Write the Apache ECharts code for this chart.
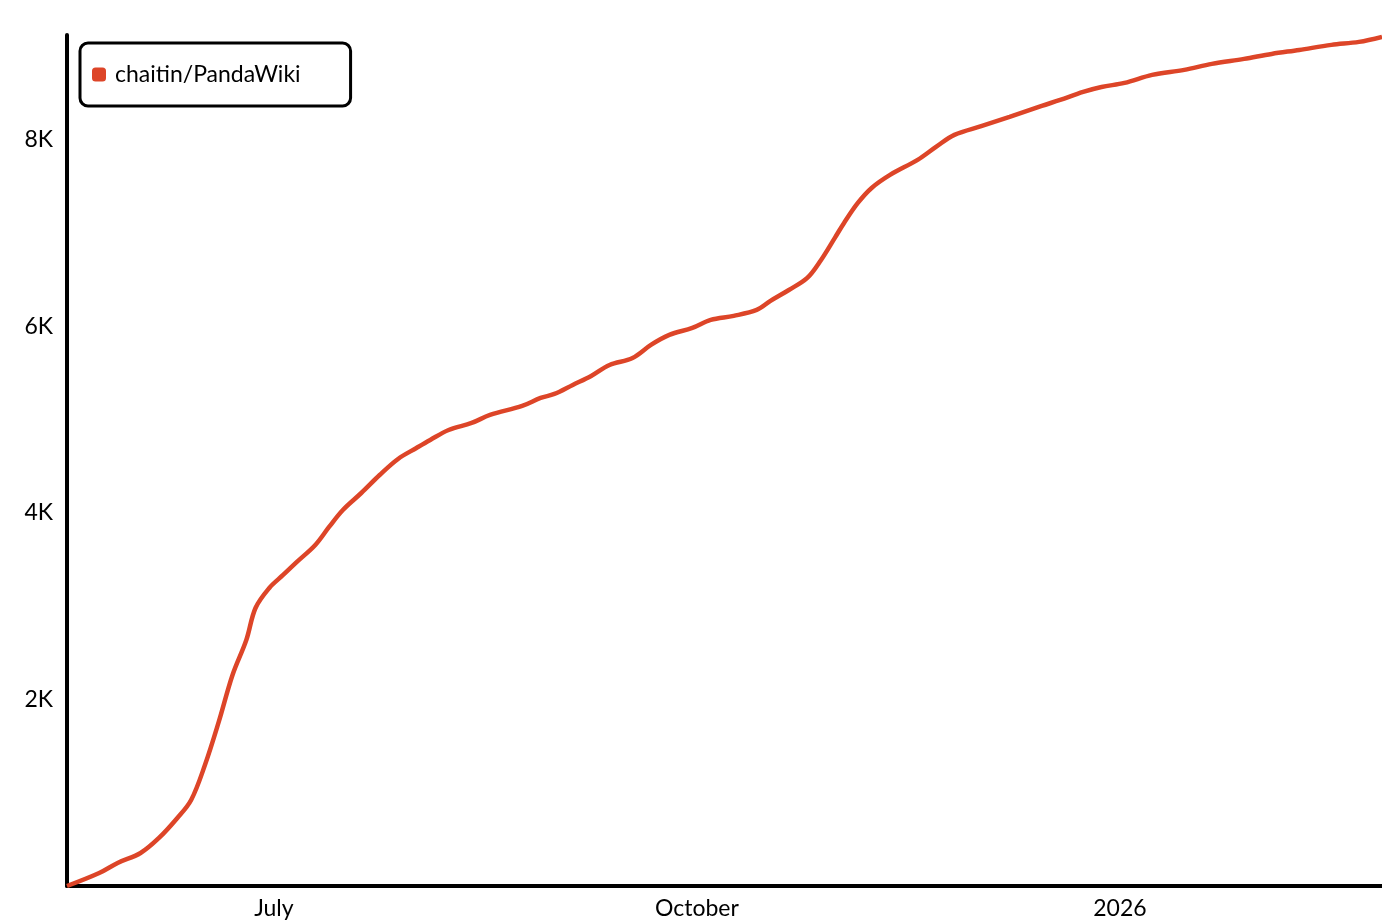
<!DOCTYPE html>
<html>
<head>
<meta charset="utf-8">
<script src="https://cdn.jsdelivr.net/npm/echarts@6/dist/echarts.min.js"></script>
<style>
html,body{margin:0;padding:0;background:#fff;}
#c{width:1382px;height:921px;}
</style>
</head>
<body>
<div id="c"></div>
<script>
var seriesName = 'chaitin/PandaWiki';
var dates = ['2025-05-17','2025-05-24','2025-05-28','2025-06-02','2025-06-06','2025-06-10','2025-06-13','2025-06-16','2025-06-19','2025-06-22','2025-06-25','2025-06-27','2025-06-30','2025-07-03','2025-07-06','2025-07-10','2025-07-13','2025-07-16','2025-07-20','2025-07-24','2025-07-28','2025-08-01','2025-08-04','2025-08-08','2025-08-13','2025-08-17','2025-08-24','2025-08-28','2025-08-31','2025-09-04','2025-09-08','2025-09-12','2025-09-17','2025-09-21','2025-09-25','2025-09-30','2025-10-04','2025-10-09','2025-10-14','2025-10-17','2025-10-21','2025-10-25','2025-10-28','2025-10-31','2025-11-02','2025-11-05','2025-11-08','2025-11-12','2025-11-18','2025-11-22','2025-11-26','2025-12-02','2025-12-08','2025-12-15','2025-12-19','2025-12-24','2025-12-28','2026-01-02','2026-01-08','2026-01-15','2026-01-21','2026-01-28','2026-02-03','2026-02-09','2026-02-16','2026-02-22','2026-02-27'];
var stars = [0,139,247,354,515,729,922,1297,1759,2263,2638,2981,3196,3335,3475,3657,3850,4032,4214,4407,4579,4697,4783,4890,4965,5051,5148,5233,5276,5373,5469,5587,5662,5802,5909,5984,6070,6113,6177,6274,6391,6520,6713,6950,7110,7324,7485,7625,7786,7925,8054,8150,8247,8365,8429,8515,8568,8611,8697,8751,8815,8869,8922,8965,9019,9051,9105];
var xTickDates = ['2025-07-01','2025-10-01','2026-01-01'];
var xTickLabels = ['July','October','2026'];
var yTickValues = [2000,4000,6000,8000];
var yTickLabels = ['2K','4K','6K','8K'];

var FONT = 'Lato';
function ts(d){ return Date.UTC(+d.slice(0,4), +d.slice(5,7)-1, +d.slice(8,10)); }
var data = dates.map(function(d,i){ return [ts(d), stars[i]]; });
var xTickTimes = xTickDates.map(ts);

var chart = echarts.init(document.getElementById('c'), null, {renderer:'canvas'});
chart.setOption({
  animation:false,
  backgroundColor:'#ffffff',
  grid:{left:67,right:0,top:35,bottom:35,containLabel:false},
  legend:{
    left:80, top:43,
    data:[seriesName],
    orient:'vertical',
    backgroundColor:'#fff',
    borderColor:'#000', borderWidth:3, borderRadius:8,
    padding:[20,50,20,12],
    itemWidth:14, itemHeight:14, itemGap:6,
    icon:'roundRect',
    textStyle:{fontFamily:FONT,fontSize:23,color:'#000',padding:[0,0,0,4]}
  },
  xAxis:{
    type:'value',
    min:ts(dates[0]), max:ts(dates[dates.length-1]),
    axisLine:{show:true,onZero:false,lineStyle:{color:'#000',width:4}},
    axisTick:{show:false},
    splitLine:{show:false},
    axisLabel:{
      customValues:xTickTimes,
      margin:11,
      fontFamily:FONT,fontSize:23,color:'#000',
      formatter:function(v){
        for(var k=0;k<xTickTimes.length;k++){ if(Math.abs(xTickTimes[k]-v)<1000) return xTickLabels[k]; }
        return '';
      }
    }
  },
  yAxis:{
    type:'value',
    min:0, max:9125,
    axisLine:{show:true,lineStyle:{color:'#000',width:4}},
    axisTick:{show:false},
    splitLine:{show:false},
    axisLabel:{
      customValues:yTickValues,
      margin:14,
      fontFamily:FONT,fontSize:23,color:'#000',
      formatter:function(v){
        var i = yTickValues.indexOf(v);
        return i>=0 ? yTickLabels[i] : '';
      }
    }
  },
  series:[{
    name:seriesName,
    type:'line',
    data:data,
    smooth:0.35,
    showSymbol:false,
    color:'#dd4528',
    lineStyle:{color:'#dd4528',width:4.5}
  }]
});
</script>
</body>
</html>
